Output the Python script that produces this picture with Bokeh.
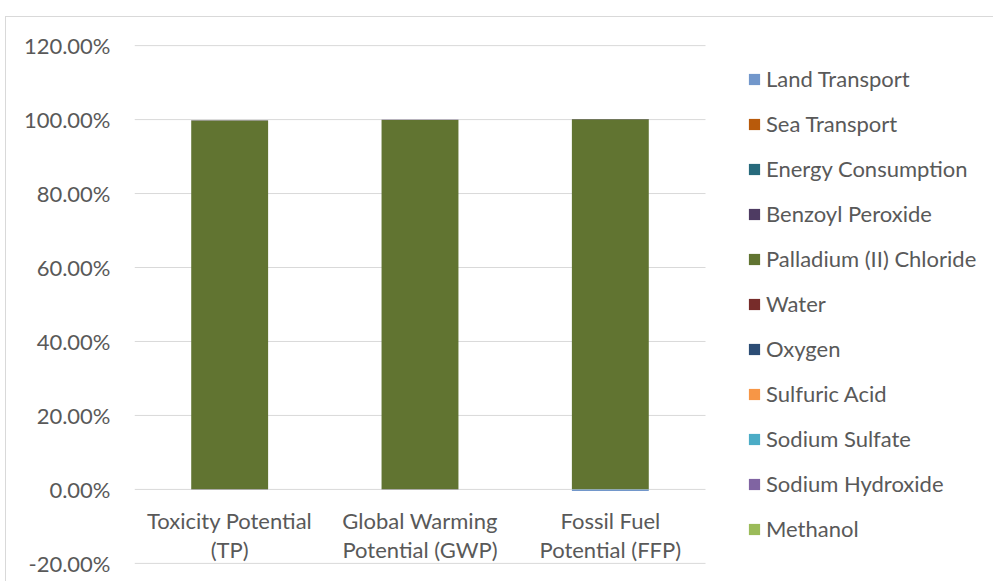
from bokeh.plotting import figure
from bokeh.models import (Range1d, FixedTicker, PrintfTickFormatter,
                          Legend, LegendItem, ColumnDataSource)
from bokeh.core.properties import value
from bokeh.embed import file_html
from bokeh.resources import INLINE
import numpy as np

# ---------------- data ----------------
categories = ["Toxicity Potential (TP)", "Global Warming Potential (GWP)", "Fossil Fuel Potential (FFP)"]
category_labels = ["Toxicity Potential\n(TP)", "Global Warming\nPotential (GWP)", "Fossil Fuel\nPotential (FFP)"]

# stacking order, bottom to top (percent contributions)
series_names = ["Methanol", "Sodium Hydroxide", "Sodium Sulfate", "Sulfuric Acid", "Oxygen",
                "Water", "Palladium (II) Chloride", "Benzoyl Peroxide", "Energy Consumption",
                "Sea Transport", "Land Transport"]
methanol = [0.01, 0.01, 0.02]
sodium_hydroxide = [0.01, 0.01, 0.01]
sodium_sulfate = [0.00, 0.00, 0.01]
sulfuric_acid = [0.01, 0.01, 0.02]
oxygen = [0.00, 0.00, 0.00]
water = [0.00, 0.00, 0.00]
palladium_chloride = [99.75, 99.88, 100.05]
benzoyl_peroxide = [0.02, 0.01, 0.02]
energy_consumption = [0.02, 0.01, 0.03]
sea_transport = [0.01, 0.00, 0.01]
land_transport = [0.01, 0.01, -0.40]
series_values = [methanol, sodium_hydroxide, sodium_sulfate, sulfuric_acid, oxygen, water,
                 palladium_chloride, benzoyl_peroxide, energy_consumption, sea_transport,
                 land_transport]
series_colors = ["#9BBB59", "#8064A2", "#4BACC6", "#F79646", "#2C4D75", "#772C2A",
                 "#617431", "#4E3B62", "#276A7C", "#B85A0B", "#7297CB"]
legend_order = ["Land Transport", "Sea Transport", "Energy Consumption", "Benzoyl Peroxide",
                "Palladium (II) Chloride", "Water", "Oxygen", "Sulfuric Acid",
                "Sodium Sulfate", "Sodium Hydroxide", "Methanol"]
y_ticks = [-20, 0, 20, 40, 60, 80, 100, 120]

FONT = "Lato"
TXT = "#595959"
GRID = "#d9d9d9"

n_cat = len(categories)
x_pos = np.arange(n_cat) + 0.5          # category centres on a numeric scale
plot_w, left_b = 988, 128
cat_px = 571                             # pixel width of the category area
x_end = n_cat * (plot_w - left_b) / cat_px   # leaves room on the right for the legend

p = figure(x_range=Range1d(0, x_end), y_range=Range1d(-20.3, 120.3),
           width=plot_w, height=565, output_backend="svg", toolbar_location=None,
           min_border_left=left_b, min_border_right=0, min_border_top=27, min_border_bottom=18)
p.margin = (16, 0, 0, 5)
p.styles = {"border-left": "1px solid #d9d9d9", "border-top": "1px solid #d9d9d9"}
p.outline_line_color = None
p.xaxis.visible = False
p.xgrid.grid_line_color = None
p.ygrid.grid_line_color = None
p.yaxis.ticker = FixedTicker(ticks=y_ticks)
p.yaxis.formatter = PrintfTickFormatter(format="%.2f%%")
p.yaxis.axis_line_color = None
p.yaxis.major_tick_line_color = None
p.yaxis.minor_tick_line_color = None
p.yaxis.major_tick_out = 0
p.yaxis.major_tick_in = 0
p.yaxis.major_label_standoff = 24
p.yaxis.major_label_text_font = FONT
p.yaxis.major_label_text_font_size = "22px"
p.yaxis.major_label_text_color = TXT

# horizontal gridlines spanning only the category area
p.segment(x0=[0] * len(y_ticks), x1=[n_cat] * len(y_ticks), y0=y_ticks, y1=y_ticks,
          line_color=GRID, line_width=1, level="underlay")

# stacked bars (positive and negative stacks separately)
pos_base = np.zeros(n_cat)
neg_base = np.zeros(n_cat)
renderers = {}
for name, vals, color in zip(series_names, series_values, series_colors):
    v = np.array(vals, dtype=float)
    bottom = np.where(v >= 0, pos_base, neg_base)
    top = bottom + v
    pos_base = np.where(v >= 0, top, pos_base)
    neg_base = np.where(v < 0, top, neg_base)
    src = ColumnDataSource(dict(x=x_pos, bottom=bottom, top=top, cat=categories))
    renderers[name] = p.vbar(x="x", bottom="bottom", top="top", width=0.404, source=src,
                             fill_color=color, line_color=None)

# category labels just under the zero line
lab_src = ColumnDataSource(dict(x=x_pos, y=[0] * n_cat, text=category_labels))
p.text(x="x", y="y", text="text", source=lab_src, text_align="center", text_baseline="top",
       y_offset=18, text_font=value(FONT), text_font_size="22px", text_color=TXT,
       text_line_height=1.05)

legend = Legend(items=[LegendItem(label=n, renderers=[renderers[n]]) for n in legend_order],
                location=(613, 22), glyph_width=14, glyph_height=14, label_standoff=5,
                label_text_font=FONT, label_text_font_size="22px", label_text_color=TXT,
                label_height=22, spacing=18, padding=0, margin=0,
                border_line_color=None, background_fill_alpha=0)
p.add_layout(legend)

open("out.html", "w").write(file_html(p, INLINE))
